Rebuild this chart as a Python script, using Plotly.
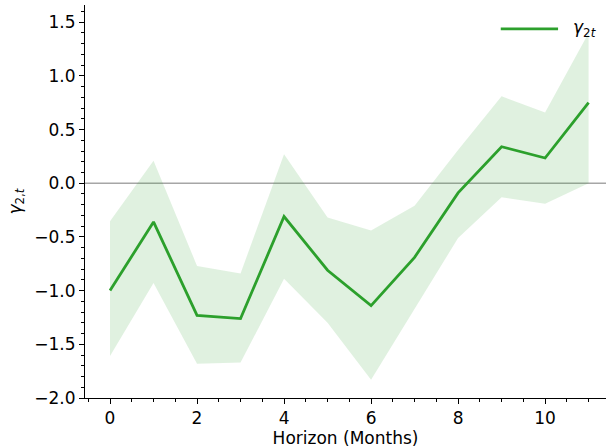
import plotly.graph_objects as go

# Impulse-response style estimate with its confidence band, by horizon
horizon = list(range(12))
gamma = [-1.00, -0.36, -1.23, -1.26, -0.31, -0.81, -1.14, -0.69, -0.09, 0.34, 0.235, 0.75]
upper = [-0.355, 0.21, -0.77, -0.84, 0.27, -0.32, -0.44, -0.21, 0.31, 0.81, 0.66, 1.40]
lower = [-1.61, -0.93, -1.68, -1.67, -0.89, -1.30, -1.83, -1.17, -0.51, -0.13, -0.19, 0.0]

y_ticks = [-2.0, -1.5, -1.0, -0.5, 0.0, 0.5, 1.0, 1.5]
y_ticktext = ["\u22122.0", "\u22121.5", "\u22121.0", "\u22120.5", "0.0", "0.5", "1.0", "1.5"]
x_ticks = [0, 2, 4, 6, 8, 10]

GREEN = "#2ca02c"
FONT = "DejaVu Sans"
FS = 17

fig = go.Figure()

# band: lower edge, then upper edge filled down to it
fig.add_trace(go.Scatter(x=horizon, y=lower, mode="lines",
                         line=dict(width=0, color=GREEN), showlegend=False,
                         hoverinfo="skip"))
fig.add_trace(go.Scatter(x=horizon, y=upper, mode="lines", fill="tonexty",
                         fillcolor="rgba(44,160,44,0.15)",
                         line=dict(width=0, color=GREEN), showlegend=False,
                         hoverinfo="skip"))
# point estimate
fig.add_trace(go.Scatter(x=horizon, y=gamma, mode="lines",
                         line=dict(width=2.8, color=GREEN), showlegend=False))

# zero reference line
fig.add_shape(type="line", xref="paper", x0=0, x1=1, yref="y", y0=0, y1=0,
              line=dict(color="rgba(128,128,128,0.7)", width=1.5), layer="below")

# legend entry
fig.add_shape(type="line", xref="paper", yref="paper", x0=0.798, x1=0.908,
              y0=0.939, y1=0.939, line=dict(color=GREEN, width=2.8))
fig.add_annotation(xref="paper", yref="paper", x=0.933, y=0.939,
                   xanchor="left", yanchor="middle", showarrow=False,
                   text="<i>γ</i><sub>2<i>t</i></sub>",
                   font=dict(family=FONT, size=FS, color="black"))

axis_common = dict(
    showgrid=False, zeroline=False, showline=True, linecolor="black",
    linewidth=1.1, ticks="outside", ticklen=5, tickwidth=1.1, tickcolor="black",
    tickfont=dict(family=FONT, size=FS, color="black"),
)

fig.update_layout(
    width=606, height=448,
    margin=dict(l=85, r=0, t=5, b=50),
    plot_bgcolor="white", paper_bgcolor="white",
    font=dict(family=FONT, size=FS, color="black"),
    xaxis=dict(range=[-0.575, 11.40], tickvals=x_ticks,
               minor=dict(dtick=0.5, tick0=0, ticks="outside", ticklen=3,
                          tickwidth=1.1, tickcolor="black"),
               title=dict(text="Horizon (Months)", standoff=4,
                          font=dict(family=FONT, size=FS)),
               **axis_common),
    yaxis=dict(range=[-2.0, 1.66], tickvals=y_ticks, ticktext=y_ticktext,
               minor=dict(dtick=0.1, tick0=0, ticks="outside", ticklen=3,
                          tickwidth=1.1, tickcolor="black"),
               title=dict(text="<i>γ</i><sub>2,<i>t</i></sub>", standoff=8,
                          font=dict(family=FONT, size=FS)),
               **axis_common),
    showlegend=False,
)

fig.write_html("out.html")
